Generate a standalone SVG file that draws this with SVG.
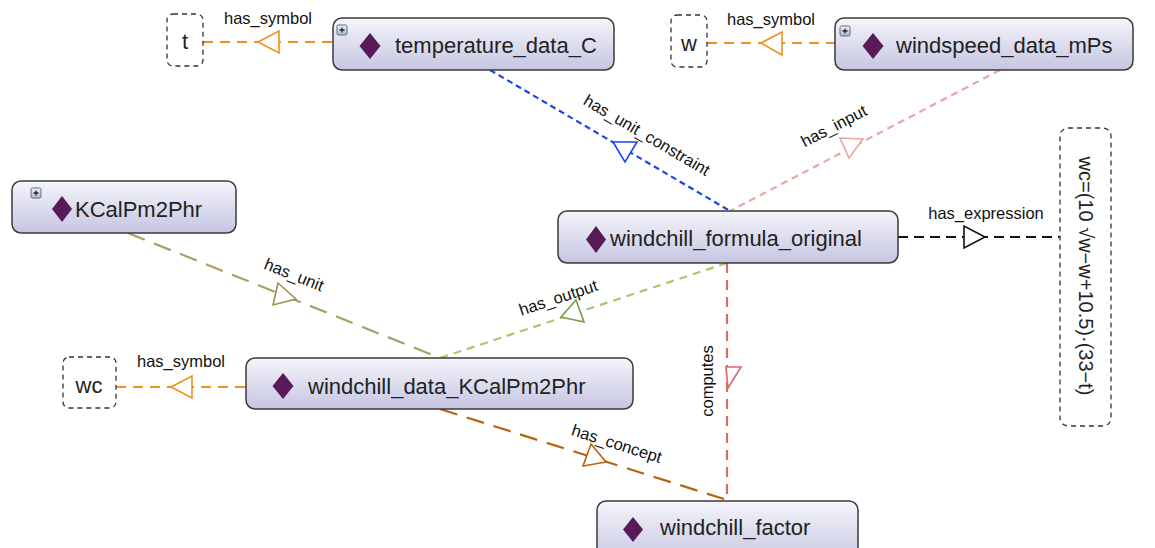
<svg xmlns="http://www.w3.org/2000/svg" width="1155" height="548" viewBox="0 0 1155 548">
<defs>
<linearGradient id="ng" x1="0" y1="0" x2="0" y2="1">
<stop offset="0" stop-color="#f5f5fb"/>
<stop offset="1" stop-color="#c5c5e2"/>
</linearGradient>
<linearGradient id="pg" x1="0" y1="0" x2="0" y2="1">
<stop offset="0" stop-color="#f0f4f8"/>
<stop offset="1" stop-color="#a9b9cb"/>
</linearGradient>
<style>
.node{fill:url(#ng);stroke:#3a3a3a;stroke-width:1.5}
.nt{font-family:"Liberation Sans",Arial,sans-serif;font-size:22px;fill:#222}
.lbl{font-family:"Liberation Sans",Arial,sans-serif;font-size:16.5px;fill:#111}
.dia{fill:#581a58}
.sym{fill:#fff;stroke:#333;stroke-width:1.3;stroke-dasharray:5 4}
.plus{fill:url(#pg);stroke:#5d6d80;stroke-width:1}
.e{fill:none;stroke-width:2.2}
.tri{fill:#fff;stroke-width:1.6}
</style>
</defs>
<rect width="1155" height="548" fill="#fff"/>
<g id="connectors">
<line class="e" x1="203" y1="42" x2="333" y2="42" stroke="#f0901e" stroke-dasharray="10 7"/>
<polygon class="tri" points="258,42 279,31 279,53" stroke="#f0901e"/>
<text class="lbl" x="268" y="24" text-anchor="middle">has_symbol</text>
<line class="e" x1="707" y1="43" x2="835" y2="43" stroke="#f0901e" stroke-dasharray="10 7"/>
<polygon class="tri" points="761,43 782,32 782,55" stroke="#f0901e"/>
<text class="lbl" x="771" y="25" text-anchor="middle">has_symbol</text>
<line class="e" x1="116" y1="387" x2="246" y2="387" stroke="#f0901e" stroke-dasharray="10 7"/>
<polygon class="tri" points="171,387 192,376 192,398" stroke="#f0901e"/>
<text class="lbl" x="181" y="367" text-anchor="middle">has_symbol</text>
<line class="e" x1="490" y1="70" x2="730" y2="211" stroke="#1a47e8" stroke-dasharray="6 4"/>
<polygon class="tri" points="613,142 637,142 625,162" stroke="#1a47e8"/>
<text class="lbl" transform="translate(644,140) rotate(30.4)" text-anchor="middle">has_unit_constraint</text>
<line class="e" x1="1000" y1="70" x2="730" y2="211" stroke="#e8a6a2" stroke-dasharray="7 5"/>
<polygon class="tri" points="840,138 863,139 849,158" stroke="#e8a6a2"/>
<text class="lbl" transform="translate(836.5,131) rotate(-27.6)" text-anchor="middle">has_input</text>
<line class="e" x1="898" y1="237" x2="1060" y2="237" stroke="#111" stroke-dasharray="10 6"/>
<polygon class="tri" points="964,226 964,248 985,237" stroke="#111"/>
<text class="lbl" x="986" y="219" text-anchor="middle">has_expression</text>
<line class="e" x1="128" y1="233" x2="440" y2="358" stroke="#a89f6a" stroke-dasharray="18 10"/>
<polygon class="tri" points="278,283 296,299 273,305" stroke="#9c9050"/>
<text class="lbl" transform="translate(292,280) rotate(21.8)" text-anchor="middle">has_unit</text>
<line class="e" x1="727" y1="263" x2="440" y2="358" stroke="#a8c86a" stroke-dasharray="8 6"/>
<polygon class="tri" points="576,300 584,322 561,317" stroke="#7a9a40"/>
<text class="lbl" transform="translate(560,303) rotate(-18.3)" text-anchor="middle">has_output</text>
<line class="e" x1="727" y1="263" x2="727" y2="500" stroke="#d96b6b" stroke-dasharray="10 7"/>
<polygon class="tri" points="726,367 741,367 728,388" stroke="#d96b6b"/>
<text class="lbl" transform="translate(712.5,381) rotate(-90)" text-anchor="middle">computes</text>
<line class="e" x1="440" y1="409" x2="727" y2="500" stroke="#b8640c" stroke-dasharray="18 10"/>
<polygon class="tri" points="591,444 606,462 583,466" stroke="#b8640c"/>
<text class="lbl" transform="translate(615,449) rotate(17.6)" text-anchor="middle">has_concept</text>
</g>
<g id="sym_t">
<rect class="sym" x="167" y="14" width="36" height="52" rx="6"/>
<text class="nt" x="185" y="49" text-anchor="middle">t</text>
</g>
<g id="sym_w">
<rect class="sym" x="671" y="15" width="36" height="52" rx="6"/>
<text class="nt" x="689" y="51" text-anchor="middle">w</text>
</g>
<g id="sym_wc">
<rect class="sym" x="63" y="357" width="53" height="51" rx="6"/>
<text class="nt" x="89" y="393" text-anchor="middle">wc</text>
</g>
<g id="expr">
<rect class="sym" x="1060" y="128" width="51" height="298" rx="8"/>
<text class="nt" style="font-size:20px" transform="translate(1079,276) rotate(90)" text-anchor="middle">wc=(10 √w−w+10.5)·(33−t)</text>
</g>
<g id="temperature_data_C">
<rect class="node" x="333" y="18" width="281" height="52" rx="9"/>
<rect class="plus" x="337" y="25" width="10" height="10" rx="1.5"/>
<path d="M339.5 30h5M342 27.5v5" stroke="#222" stroke-width="1.3"/>
<polygon class="dia" points="370,33 380.5,46 370,59 359.5,46"/>
<text class="nt" x="395" y="53">temperature_data_C</text>
</g>
<g id="windspeed_data_mPs">
<rect class="node" x="835" y="18" width="298" height="52" rx="9"/>
<rect class="plus" x="840" y="26" width="10" height="10" rx="1.5"/>
<path d="M842.5 31h5M845 28.5v5" stroke="#222" stroke-width="1.3"/>
<polygon class="dia" points="873,33 883.5,46 873,59 862.5,46"/>
<text class="nt" x="896" y="53">windspeed_data_mPs</text>
</g>
<g id="KCalPm2Phr">
<rect class="node" x="12" y="181" width="224" height="52" rx="9"/>
<rect class="plus" x="31" y="188" width="10" height="10" rx="1.5"/>
<path d="M33.5 193h5M36 190.5v5" stroke="#222" stroke-width="1.3"/>
<polygon class="dia" points="62,196 72,209 62,222 52,209"/>
<text class="nt" x="75" y="217">KCalPm2Phr</text>
</g>
<g id="windchill_formula_original">
<rect class="node" x="558" y="211" width="340" height="52" rx="9"/>
<polygon class="dia" points="596,226 606,239.5 596,253 586,239.5"/>
<text class="nt" x="610" y="246">windchill_formula_original</text>
</g>
<g id="windchill_data_KCalPm2Phr">
<rect class="node" x="246" y="358" width="387" height="51" rx="9"/>
<polygon class="dia" points="283,373 293.5,386 283,399 272.5,386"/>
<text class="nt" x="308" y="394">windchill_data_KCalPm2Phr</text>
</g>
<g id="windchill_factor">
<rect class="node" x="597" y="501" width="261" height="62" rx="9"/>
<polygon class="dia" points="633,517 643,529.5 633,542 623,529.5"/>
<text class="nt" x="660" y="535">windchill_factor</text>
</g>
</svg>
